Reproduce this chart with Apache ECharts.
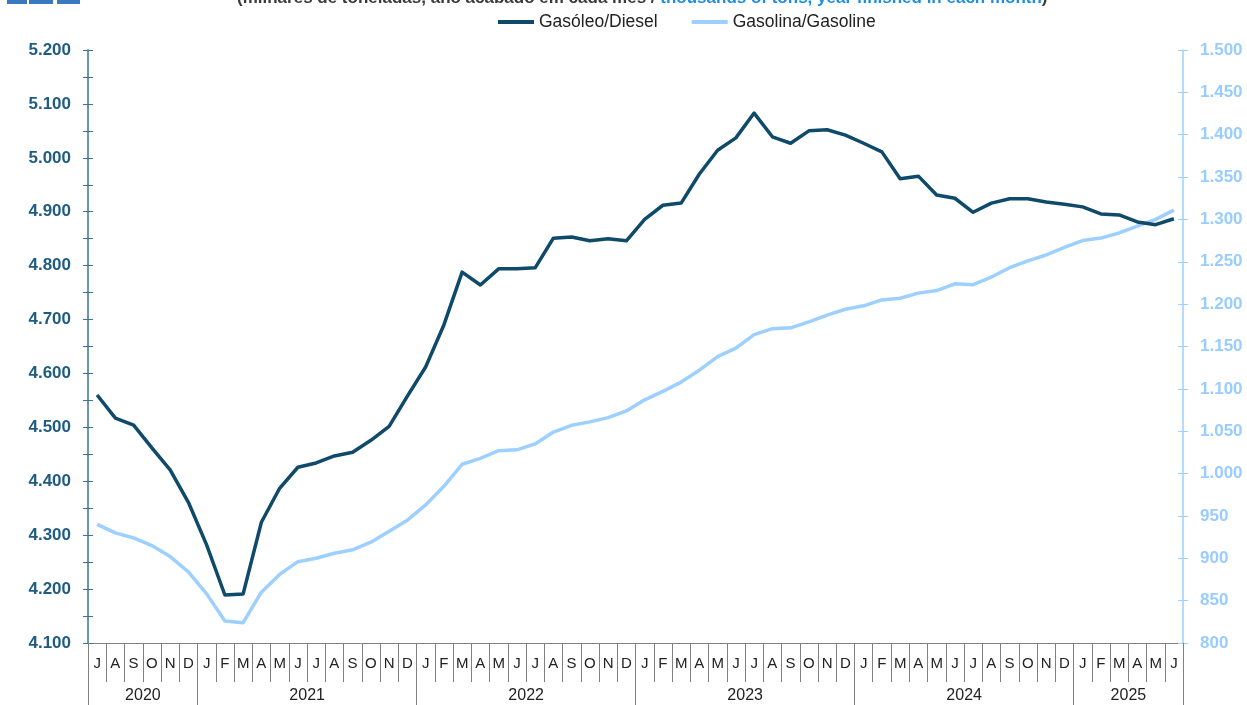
<!DOCTYPE html>
<html>
<head>
<meta charset="utf-8">
<script src="https://cdn.jsdelivr.net/npm/echarts@6/dist/echarts.min.js"></script>
<style>
  html, body { margin: 0; padding: 0; background: #fff; }
  #chart { width: 1247px; height: 705px; }
</style>
</head>
<body>
<div id="chart"></div>
<script>
// Monthly series, July 2020 to June 2025 (thousands of tons, 12-month rolling)
const monthLetters = ['J', 'F', 'M', 'A', 'M', 'J', 'J', 'A', 'S', 'O', 'N', 'D'];
const startYear = 2020;
const startMonth = 6;          // July (0-based)
const monthCount = 60;
const years = [2020, 2021, 2022, 2023, 2024, 2025];

const diesel = [
  4560, 4517, 4504, 4462, 4421, 4361, 4282, 4189, 4191, 4324,
  4387, 4426, 4434, 4447, 4454, 4476, 4502, 4558, 4612, 4690,
  4788, 4764, 4794, 4794, 4796, 4851, 4853, 4846, 4850, 4846,
  4886, 4912, 4916, 4970, 5014, 5037, 5083, 5039, 5027, 5050,
  5052, 5042, 5027, 5011, 4961, 4966, 4931, 4925, 4899, 4916,
  4924, 4924, 4918, 4914, 4909, 4896, 4894, 4881, 4876, 4887
];
const gasoline = [
  940, 930, 924, 915, 902, 884, 858, 826, 824, 860,
  881, 896, 900, 906, 910, 919, 932, 945, 963, 985,
  1011, 1018, 1027, 1028, 1035, 1049, 1057, 1061, 1066, 1074,
  1087, 1097, 1108, 1122, 1138, 1148, 1164, 1171, 1172, 1179,
  1187, 1194, 1198, 1205, 1207, 1213, 1216, 1224, 1223, 1232,
  1243, 1251, 1258, 1267, 1275, 1278, 1284, 1292, 1300, 1311
];

const dieselName = 'Gasóleo/Diesel';
const gasolineName = 'Gasolina/Gasoline';

// Category keys "YYYY-MM" and per-year index ranges
const categories = [];
const yearRanges = {};
for (let i = 0; i < monthCount; i++) {
  const m = (startMonth + i) % 12;
  const y = startYear + Math.floor((startMonth + i) / 12);
  categories.push(y + '-' + String(m + 1).padStart(2, '0'));
  if (!yearRanges[y]) yearRanges[y] = [i, i];
  yearRanges[y][1] = i;
}
const yearStarts = new Set(years.map(y => yearRanges[y][0]));
// each year label sits at the boundary in the middle of its range
const yearAnchors = {};
years.forEach(y => {
  const r = yearRanges[y];
  yearAnchors[(r[0] + r[1] + 1) / 2] = y;
});

const fmt = v => {
  const s = String(Math.round(v));
  return s.replace(/\B(?=(\d{3})+(?!\d))/g, '.');
};

const FONT = '"Liberation Sans", Arial, sans-serif';
const DARK = '#0f4a6a';
const LIGHT = '#9dd0ff';
const LEFT_AXIS = '#3f7396';

const chart = echarts.init(document.getElementById('chart'));
chart.setOption({
  animation: false,
  backgroundColor: '#ffffff',
  textStyle: { fontFamily: FONT },
  title: {
    left: 232,
    top: -15,
    text: '{a|(milhares de toneladas, ano acabado em cada mês / }{b|thousands of tons, year finished in each month}{a|)}',
    textStyle: {
      rich: {
        a: { fontFamily: FONT, fontSize: 17, color: '#3a3a3a' },
        b: { fontFamily: FONT, fontSize: 17, fontWeight: 'bold', color: '#1e8fe0' }
      }
    }
  },
  graphic: [
    { type: 'rect', shape: { x: 7, y: 0, width: 20, height: 4 }, style: { fill: '#3a78c0' } },
    { type: 'rect', shape: { x: 29, y: 0, width: 24, height: 4 }, style: { fill: '#3a78c0' } },
    { type: 'rect', shape: { x: 57, y: 0, width: 23, height: 4 }, style: { fill: '#3a78c0' } }
  ],
  legend: {
    left: 493,
    top: 8,
    itemGap: 34,
    itemWidth: 36,
    itemHeight: 4,
    icon: 'rect',
    textStyle: { fontFamily: FONT, fontSize: 17.5, color: '#222222' },
    data: [dieselName, gasolineName]
  },
  grid: { left: 88, right: 64, top: 50, bottom: 62, containLabel: false },
  xAxis: [
    {
      type: 'category',
      data: categories,
      boundaryGap: true,
      axisLine: { show: true, lineStyle: { color: '#808080', width: 1 } },
      axisTick: { show: true, interval: 0, length: 39, lineStyle: { color: '#808080', width: 1 } },
      axisLabel: {
        interval: 0,
        margin: 13,
        fontFamily: FONT,
        fontSize: 15,
        color: '#222222',
        formatter: v => monthLetters[parseInt(v.slice(5), 10) - 1]
      },
      splitLine: { show: false }
    },
    {
      type: 'category',
      data: categories,
      boundaryGap: true,
      position: 'bottom',
      axisLine: { show: false },
      axisTick: {
        show: true,
        length: 62,
        interval: idx => yearStarts.has(idx),
        lineStyle: { color: '#808080', width: 1 }
      },
      axisLabel: {
        margin: 45,
        fontFamily: FONT,
        fontSize: 16,
        color: '#222222',
        padding: [0, 18, 0, 0],
        interval: idx => yearAnchors[idx] !== undefined,
        formatter: (v, idx) => String(yearAnchors[idx] || '')
      },
      splitLine: { show: false }
    }
  ],
  yAxis: [
    {
      type: 'value',
      position: 'left',
      min: 4100, max: 5200, interval: 50,
      axisLine: { show: true, lineStyle: { color: LEFT_AXIS, width: 1.5 } },
      axisTick: { show: true, length: 5, lineStyle: { color: LEFT_AXIS, width: 1 } },
      axisLabel: {
        margin: 17,
        fontFamily: FONT, fontSize: 17, fontWeight: 'bold', color: '#1f5c82',
        formatter: v => (v % 100 === 0 ? fmt(v) : '')
      },
      splitLine: { show: false }
    },
    {
      type: 'value',
      position: 'right',
      min: 800, max: 1500, interval: 50,
      axisLine: { show: true, lineStyle: { color: LIGHT, width: 1.5 } },
      axisTick: { show: true, length: 5, lineStyle: { color: LIGHT, width: 1 } },
      axisLabel: {
        margin: 17,
        fontFamily: FONT, fontSize: 17, fontWeight: 'bold', color: '#99ccff',
        formatter: v => fmt(v)
      },
      splitLine: { show: false }
    },
    {
      // inner half of the crossing ticks on the left scale
      type: 'value',
      position: 'left',
      min: 4100, max: 5200, interval: 50,
      axisLine: { show: false },
      axisTick: { show: true, inside: true, length: 5, lineStyle: { color: LEFT_AXIS, width: 1 } },
      axisLabel: { show: false },
      splitLine: { show: false }
    },
    {
      // inner half of the crossing ticks on the right scale
      type: 'value',
      position: 'right',
      min: 800, max: 1500, interval: 50,
      axisLine: { show: false },
      axisTick: { show: true, inside: true, length: 5, lineStyle: { color: LIGHT, width: 1 } },
      axisLabel: { show: false },
      splitLine: { show: false }
    }
  ],
  series: [
    {
      name: gasolineName,
      type: 'line',
      xAxisIndex: 0,
      yAxisIndex: 1,
      data: gasoline,
      symbol: 'none',
      itemStyle: { color: LIGHT },
      lineStyle: { color: LIGHT, width: 3.5, join: 'round' },
      z: 2
    },
    {
      name: dieselName,
      type: 'line',
      xAxisIndex: 0,
      yAxisIndex: 0,
      data: diesel,
      symbol: 'none',
      itemStyle: { color: DARK },
      lineStyle: { color: DARK, width: 3.5, join: 'round' },
      z: 3
    }
  ]
});
</script>
</body>
</html>
